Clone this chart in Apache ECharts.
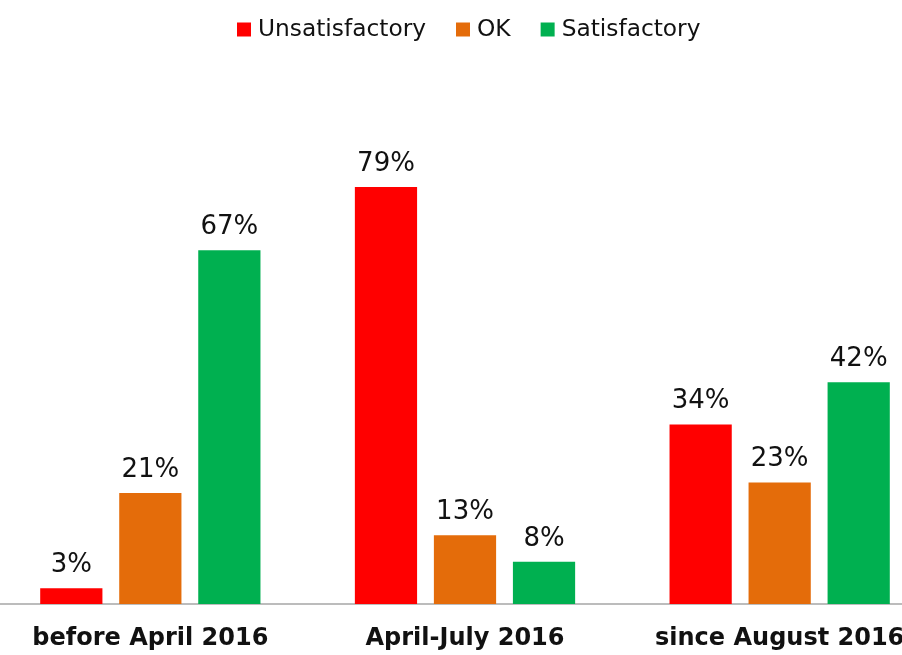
<!DOCTYPE html>
<html><head><meta charset="utf-8">
<script src="https://cdn.jsdelivr.net/npm/echarts@6/dist/echarts.min.js"></script>
<style>html,body{margin:0;padding:0;background:#fff}#c{width:902px;height:655px}</style>
</head><body><div id="c"></div>
<script>
const categories = ['before April 2016', 'April-July 2016', 'since August 2016'];
const seriesNames = ['Unsatisfactory', 'OK', 'Satisfactory'];
const unsatisfactory = [3, 79, 34];
const ok = [21, 13, 23];
const satisfactory = [67, 8, 42];
const colors = ['#FF0000', '#E46C0A', '#00B050'];
const FONT = 'DejaVu Sans, sans-serif';

const chart = echarts.init(document.getElementById('c'), null, {renderer: 'canvas'});
const dataSets = [unsatisfactory, ok, satisfactory];
chart.setOption({
  animation: false,
  color: colors,
  legend: {
    top: 13, left: 232,
    itemWidth: 14, itemHeight: 14, itemGap: 30,
    icon: 'rect',
    textStyle: {fontFamily: FONT, fontSize: 23.3, color: '#111', padding: [0, 0, 0, 2]},
    data: seriesNames
  },
  grid: {left: -7, right: -35, top: 76, bottom: 51, containLabel: false, outerBoundsMode: 'none'},
  xAxis: {
    type: 'category', data: categories,
    axisLine: {lineStyle: {color: '#a6a6a6', width: 1.5}},
    axisTick: {show: false},
    axisLabel: {interval: 0, fontFamily: FONT, fontSize: 24, fontWeight: 'bold', color: '#111', margin: 23}
  },
  yAxis: {type: 'value', min: 0, max: 100, show: false, splitLine: {show: false}},
  series: seriesNames.map((n, i) => ({
    name: n, type: 'bar', data: dataSets[i],
    barGap: '27%', barCategoryGap: '30%',
    label: {show: true, position: 'top', distance: 10, formatter: '{c}%',
      fontFamily: FONT, fontSize: 26, color: '#111'}
  }))
});
</script></body></html>
